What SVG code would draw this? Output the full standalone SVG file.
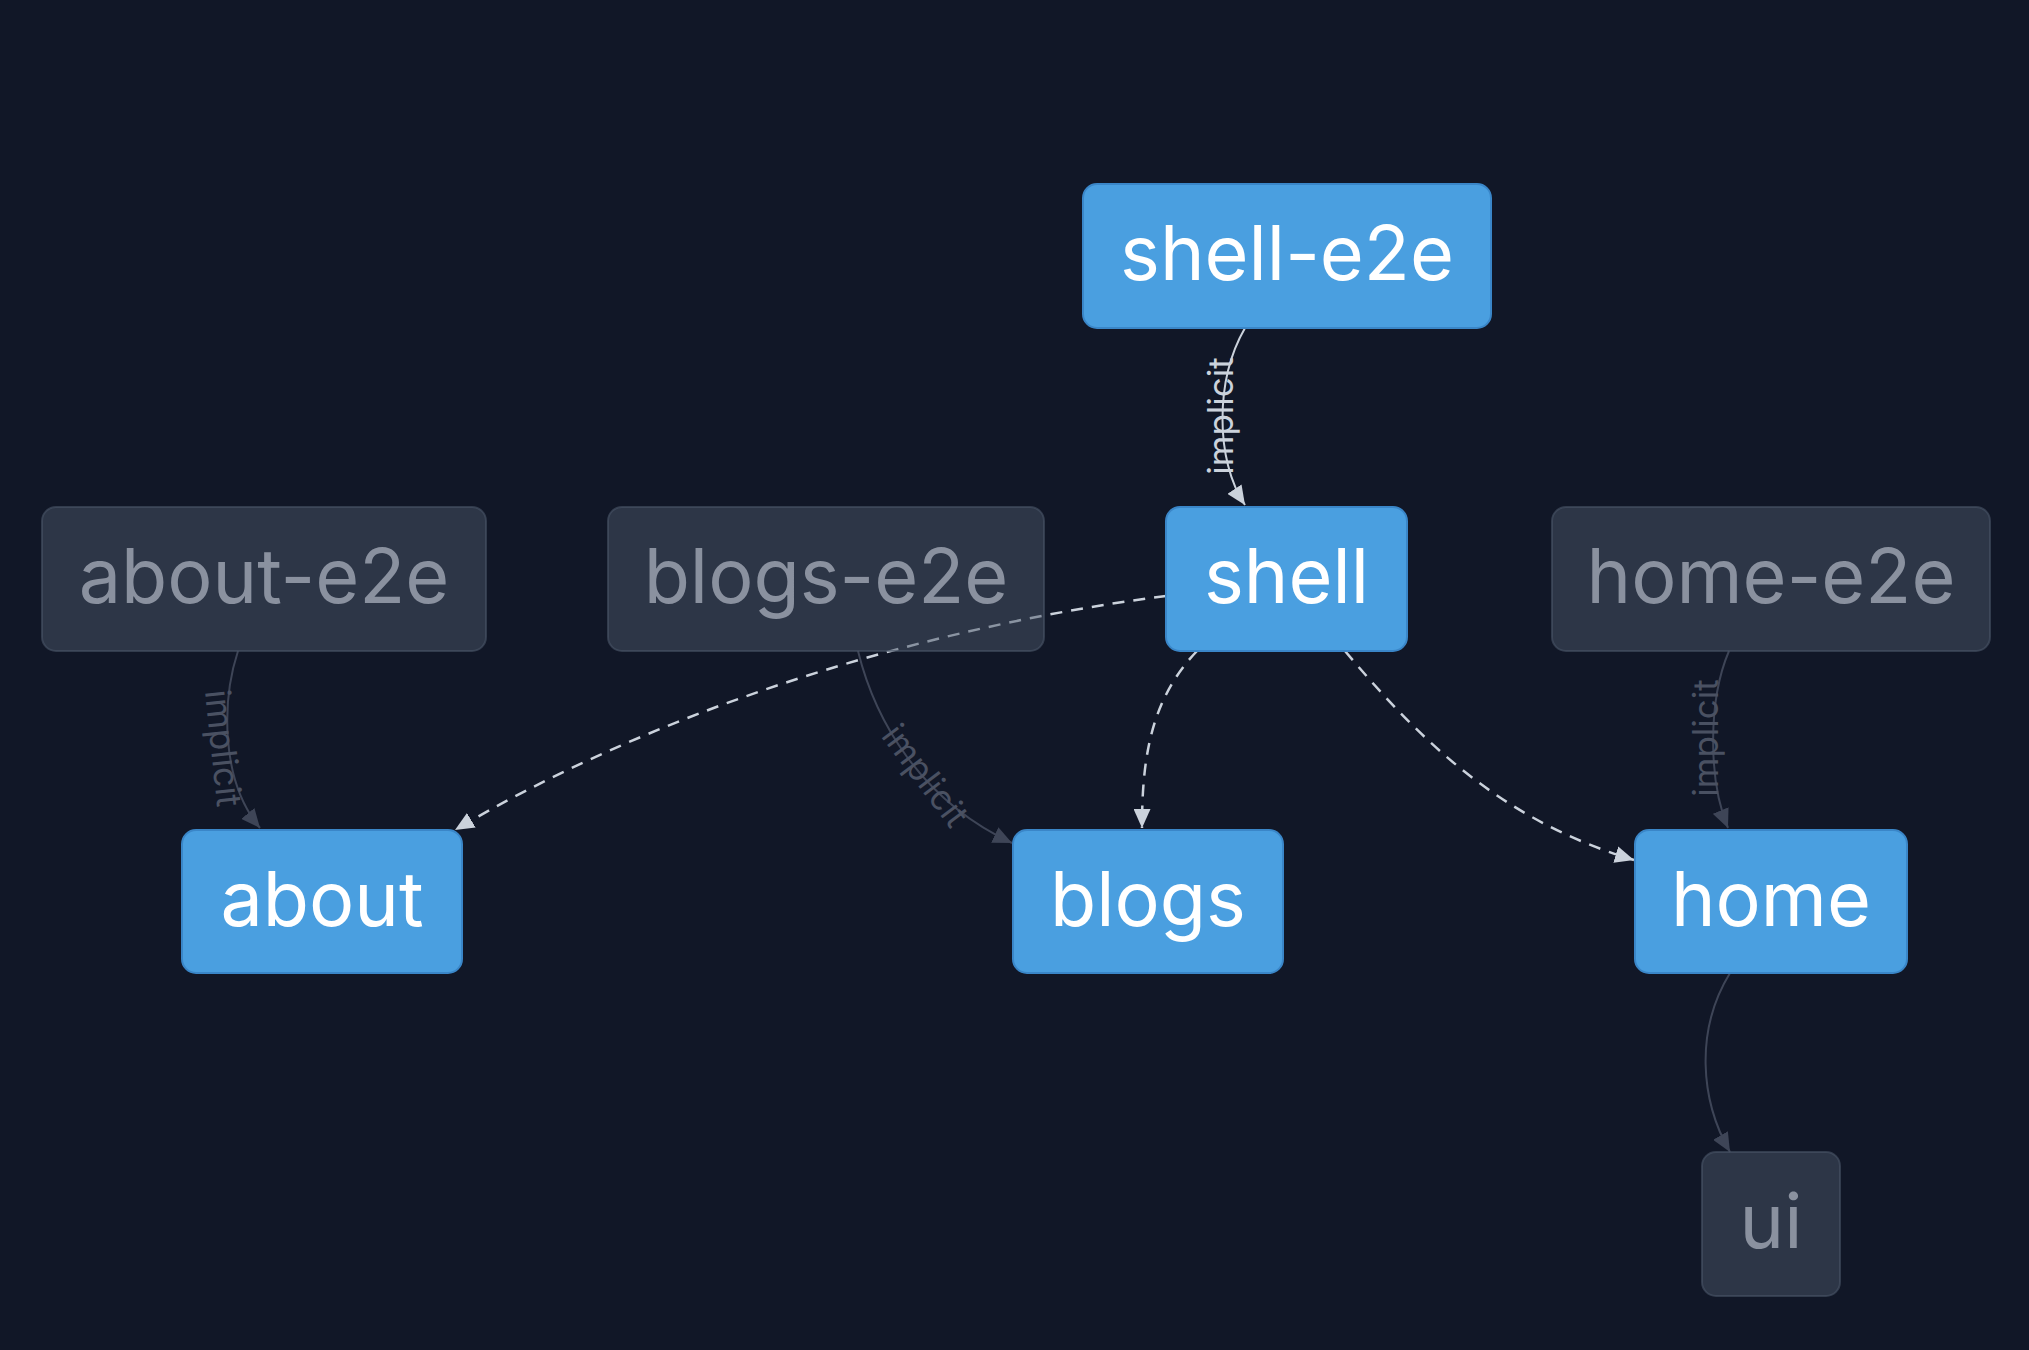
<svg xmlns="http://www.w3.org/2000/svg" width="2029" height="1350" viewBox="0 0 2029 1350">
<defs>
<style>
.bg{fill:#111727}
.nb rect{fill:#4a9fe0;stroke:#3a86c8;stroke-width:2}
.nb text{fill:#ffffff}
.nd rect{fill:#4a5568;fill-opacity:0.5;stroke:#4a5568;stroke-opacity:0.6;stroke-width:2}
.nd text{fill:#8a919f}
text.n{font-family:Inter,"Noto Sans",sans-serif;font-size:75.5px;text-anchor:middle}
.eb{fill:none;stroke:#cbd2dc;stroke-width:2.5;stroke-dasharray:12 9}
.es{fill:none;stroke:#cbd2dc;stroke-width:2}
.ed{fill:none;stroke:#3e4557;stroke-width:2}
.lb{font-family:Inter,"Noto Sans",sans-serif;font-size:35px;fill:#cbd2dc;text-anchor:middle;dominant-baseline:central}
.ld{font-family:Inter,"Noto Sans",sans-serif;font-size:35px;fill:#4a5162;text-anchor:middle;dominant-baseline:central}
</style>
<marker id="ab" viewBox="0 0 19 17" refX="19" refY="8.5" markerWidth="19" markerHeight="17" markerUnits="userSpaceOnUse" orient="auto"><path d="M0,0 L19,8.5 L0,17 z" fill="#cbd2dc"/></marker>
<marker id="ad" viewBox="0 0 19 17" refX="19" refY="8.5" markerWidth="19" markerHeight="17" markerUnits="userSpaceOnUse" orient="auto"><path d="M0,0 L19,8.5 L0,17 z" fill="#3e4557"/></marker>
</defs>
<rect class="bg" x="0" y="0" width="2029" height="1350"/>
<g id="connectors">
<path class="es" d="M1245,328 C1215,380 1215,460 1245,505" marker-end="url(#ab)"/>
<path class="ed" d="M238,651 C222,700 220,780 260,828" marker-end="url(#ad)"/>
<path class="ed" d="M858,651 C875,720 920,800 1012,843" marker-end="url(#ad)"/>
<path class="ed" d="M1729,651 C1708,700 1708,780 1728,828" marker-end="url(#ad)"/>
<path class="ed" d="M1730,973 C1695,1030 1700,1100 1730,1152" marker-end="url(#ad)"/>
<path class="eb" d="M1166,596 C900,630 640,720 455,830" marker-end="url(#ab)"/>
<path class="eb" d="M1197,651 C1150,700 1142,760 1142,828" marker-end="url(#ab)"/>
<path class="eb" d="M1345,651 C1420,740 1500,820 1634,860" marker-end="url(#ab)"/>
<text class="lb" transform="translate(1220,416) rotate(-90)">implicit</text>
<text class="ld" transform="translate(224,748) rotate(84)">implicit</text>
<text class="ld" transform="translate(926,775) rotate(53)">implicit</text>
<text class="ld" transform="translate(1705,738) rotate(-90)">implicit</text>
</g>
<g id="shell-e2e" class="nb"><rect x="1083" y="184" width="408" height="144" rx="14"/><text class="n" x="1287" y="280">shell-e2e</text></g>
<g id="about-e2e" class="nd"><rect x="42" y="507" width="444" height="144" rx="14"/><text class="n" x="264" y="603">about-e2e</text></g>
<g id="blogs-e2e" class="nd"><rect x="608" y="507" width="436" height="144" rx="14"/><text class="n" x="826" y="603">blogs-e2e</text></g>
<g id="shell" class="nb"><rect x="1166" y="507" width="241" height="144" rx="14"/><text class="n" x="1286.5" y="603">shell</text></g>
<g id="home-e2e" class="nd"><rect x="1552" y="507" width="438" height="144" rx="14"/><text class="n" x="1771" y="603">home-e2e</text></g>
<g id="about" class="nb"><rect x="182" y="830" width="280" height="143" rx="14"/><text class="n" x="322" y="926">about</text></g>
<g id="blogs" class="nb"><rect x="1013" y="830" width="270" height="143" rx="14"/><text class="n" x="1148" y="926">blogs</text></g>
<g id="home" class="nb"><rect x="1635" y="830" width="272" height="143" rx="14"/><text class="n" x="1771" y="926">home</text></g>
<g id="ui" class="nd"><rect x="1702" y="1152" width="138" height="144" rx="14"/><text class="n" x="1771" y="1248">ui</text></g>
</svg>
